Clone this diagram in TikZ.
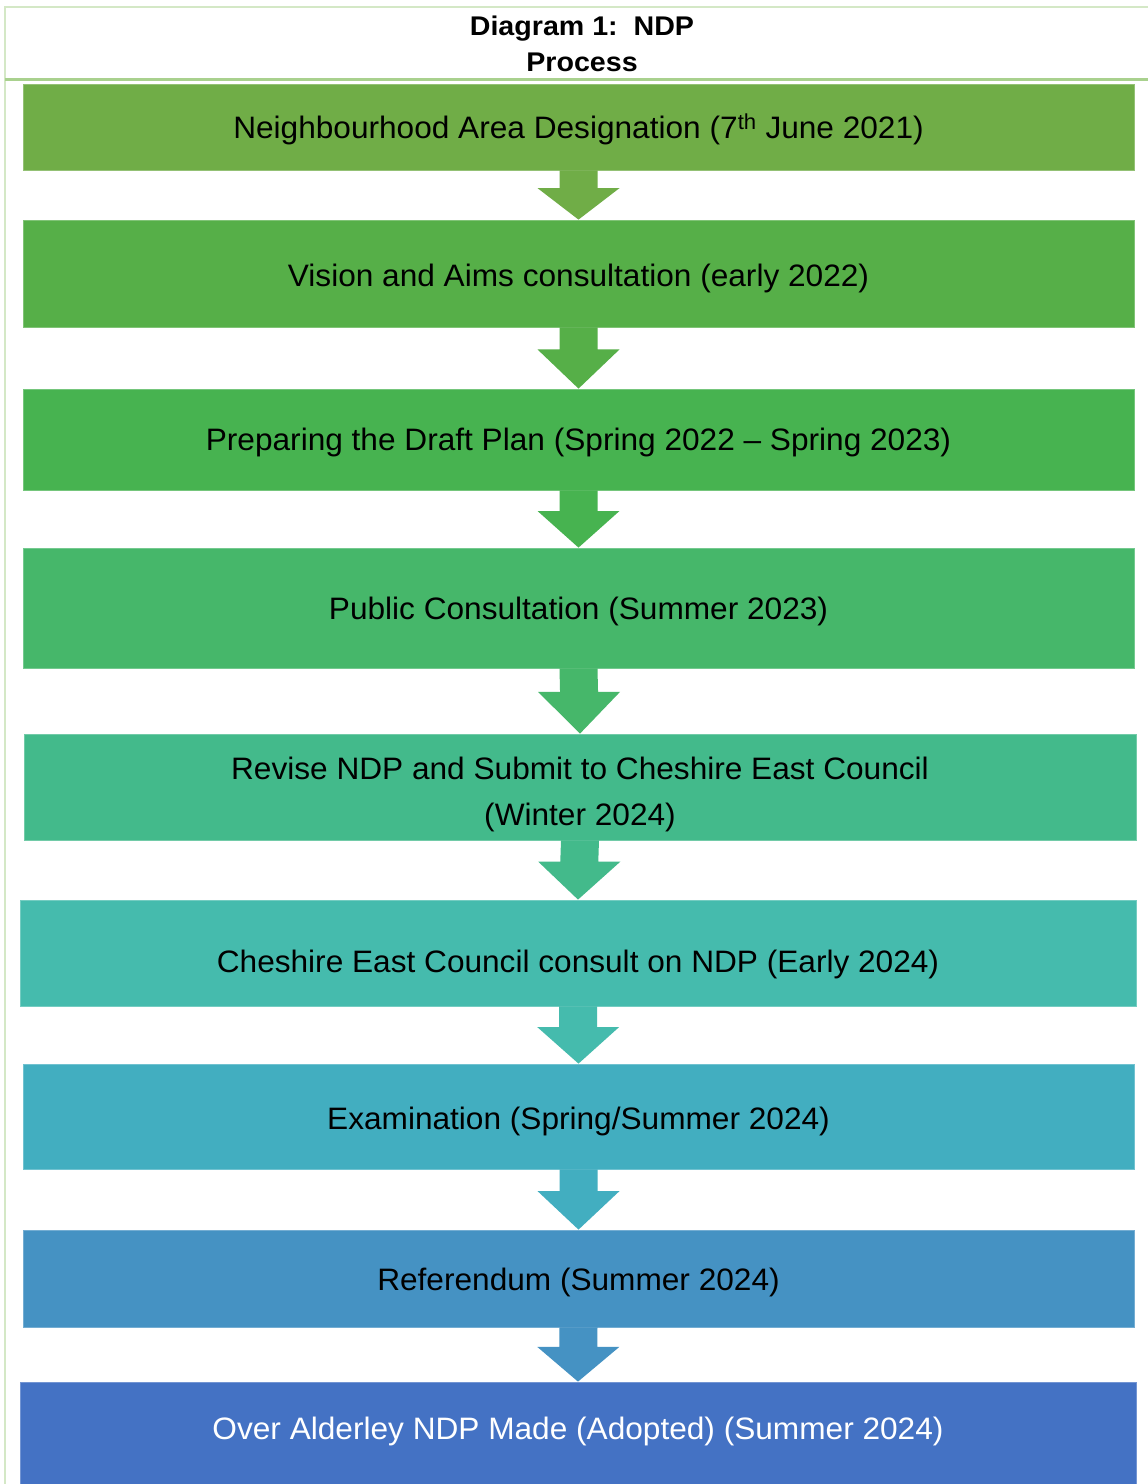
\documentclass[tikz,border=0pt]{standalone}
\usepackage{fontspec}
\setmainfont{Liberation Sans}
\newfontfamily\stagefont[FakeStretch=1.02]{Liberation Sans}
\newfontfamily\headfont[FakeStretch=1.06]{Liberation Sans}
\usetikzlibrary{calc}

\definecolor{frameline}{HTML}{D4E8C6}
\definecolor{sepline}{HTML}{A9D18E}
\definecolor{sA}{HTML}{70AD47}
\definecolor{sB}{HTML}{56AF48}
\definecolor{sC}{HTML}{47B350}
\definecolor{sD}{HTML}{46B76A}
\definecolor{sE}{HTML}{43BA8B}
\definecolor{sF}{HTML}{45BBAD}
\definecolor{sG}{HTML}{42AEC0}
\definecolor{sH}{HTML}{4592C3}
\definecolor{sI}{HTML}{4472C4}

\tikzset{
  stage/.style={fill=#1, draw=#1!75!white, line width=0.8pt, inner sep=0pt,
    align=center, text=black, font=\stagefont\fontsize{31}{46}\selectfont},
  heading/.style={align=center, font=\headfont\bfseries\fontsize{27}{36}\selectfont},
}

% shift a stage's text up or down without changing its box
\newcommand\nudge[2]{\raisebox{#1}[\height][\depth]{#2}}

% block arrow from the bottom of one stage to the top of the next
\newcommand\stagearrow[3]{%
  \fill[#3]
    ($(#1.south)+(-19,0)$) --
    ($(#1.south)!0.36!(#2.north)+(-19,0)$) --
    ($(#1.south)!0.36!(#2.north)+(-41,0)$) --
    (#2.north) --
    ($(#1.south)!0.36!(#2.north)+(41,0)$) --
    ($(#1.south)!0.36!(#2.north)+(19,0)$) --
    ($(#1.south)+(19,0)$) -- cycle;}

\begin{document}
\begin{tikzpicture}[x=1pt,y=-1pt]
  \useasboundingbox (0,0) rectangle (1148,1484);
  \fill[white] (0,0) rectangle (1148,1484);

  % frame and heading
  \draw[frameline, line width=2pt] (4,7) -- (1148,7);
  \draw[frameline, line width=1.5pt] (5,7) -- (5,1484);
  \draw[sepline, line width=3pt] (5,79.5) -- (1148,79.5);
  \node[heading] (title) at (582,44) {Diagram 1:\ \ NDP\\Process};

  % stages
  \node[stage=sA, minimum width=1111pt, minimum height=86pt] (s1) at (578.5,127)
    {\nudge{-2pt}{Neighbourhood Area Designation (7\textsuperscript{th} June 2021)}};
  \node[stage=sB, minimum width=1111pt, minimum height=107pt] (s2) at (578.5,273.5)
    {\nudge{-5pt}{Vision and Aims consultation (early 2022)}};
  \node[stage=sC, minimum width=1111pt, minimum height=101pt] (s3) at (578.5,439.5)
    {\nudge{-3pt}{Preparing the Draft Plan (Spring 2022 – Spring 2023)}};
  \node[stage=sD, minimum width=1111pt, minimum height=120pt] (s4) at (578.5,608)
    {\nudge{-3pt}{Public Consultation (Summer 2023)}};
  \node[stage=sE, minimum width=1112pt, minimum height=106pt] (s5) at (580,787)
    {\nudge{-7pt}{\parbox{900pt}{\centering Revise NDP and Submit to Cheshire East Council\\(Winter 2024)}}};
  \node[stage=sF, minimum width=1116pt, minimum height=106pt] (s6) at (578,953)
    {\nudge{-11pt}{Cheshire East Council consult on NDP (Early 2024)}};
  \node[stage=sG, minimum width=1111pt, minimum height=105pt] (s7) at (578.5,1116.5)
    {\nudge{-5pt}{Examination (Spring/Summer 2024)}};
  \node[stage=sH, minimum width=1111pt, minimum height=97pt] (s8) at (578.5,1278.5)
    {\nudge{-4pt}{Referendum (Summer 2024)}};
  \node[stage=sI, minimum width=1116pt, minimum height=104pt, text=white] (s9) at (578,1434)
    {\nudge{3pt}{Over Alderley NDP Made (Adopted) (Summer 2024)}};

  % arrows between stages
  \stagearrow{s1}{s2}{sA}
  \stagearrow{s2}{s3}{sB}
  \stagearrow{s3}{s4}{sC}
  \stagearrow{s4}{s5}{sD}
  \stagearrow{s5}{s6}{sE}
  \stagearrow{s6}{s7}{sF}
  \stagearrow{s7}{s8}{sG}
  \stagearrow{s8}{s9}{sH}
\end{tikzpicture}
\end{document}
